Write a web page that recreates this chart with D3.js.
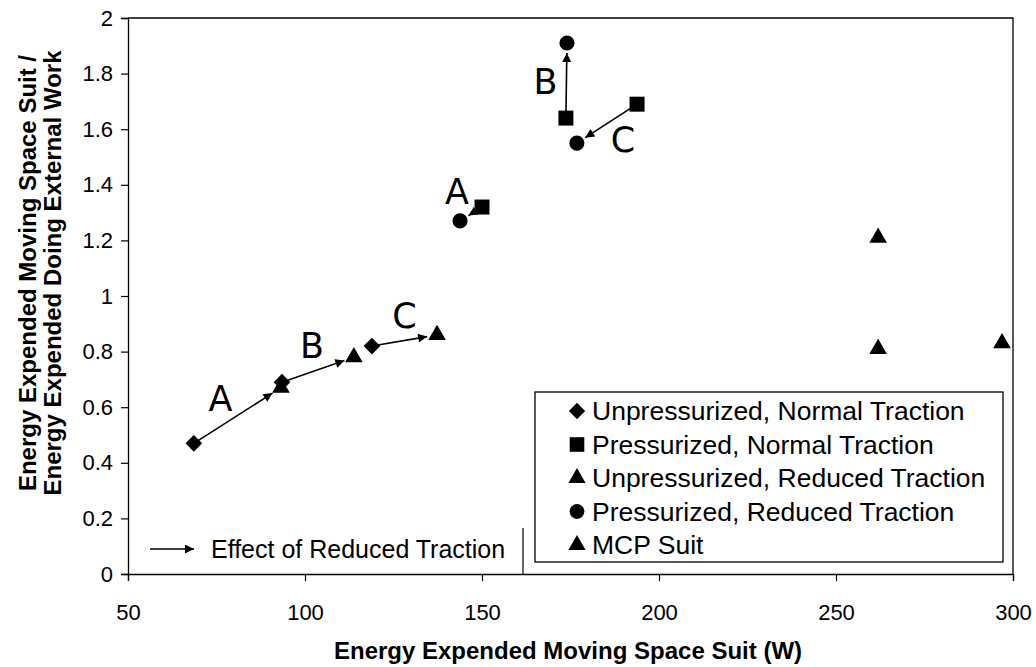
<!DOCTYPE html>
<html>
<head>
<meta charset="utf-8">
<script src="https://cdn.jsdelivr.net/npm/d3@7"></script>
<style>
  html, body { margin: 0; padding: 0; background: #fff; }
  svg { display: block; font-family: "Liberation Sans", Arial, sans-serif; }
</style>
</head>
<body>
<svg id="chart" width="1036" height="667"></svg>
<script>
// Energy expended moving a space suit vs. ratio to external work
const xTicks = [50, 100, 150, 200, 250, 300];
const yTicks = [0, 0.2, 0.4, 0.6, 0.8, 1, 1.2, 1.4, 1.6, 1.8, 2];

// [watts, ratio]
const unpressurizedNormal  = [[68.6, 0.47], [93.5, 0.69], [118.9, 0.82]];
const pressurizedNormal    = [[150.0, 1.32], [173.7, 1.64], [193.8, 1.69]];
const unpressurizedReduced = [[93.2, 0.67], [113.8, 0.78], [137.3, 0.86]];
const pressurizedReduced   = [[143.8, 1.27], [174.0, 1.91], [176.8, 1.55]];
const mcpSuit              = [[261.9, 1.21], [261.9, 0.81], [296.9, 0.83]];

const conditionLetters = ["A", "B", "C"];
const legendLabels = [
  "Unpressurized, Normal Traction",
  "Pressurized, Normal Traction",
  "Unpressurized, Reduced Traction",
  "Pressurized, Reduced Traction",
  "MCP Suit"
];
const arrowLegendLabel = "Effect of Reduced Traction";
const xTitle = "Energy Expended Moving Space Suit (W)";
const yTitleLines = ["Energy Expended Moving Space Suit /", "Energy Expended Doing External Work"];

// pixel offsets of the A/B/C letters from each arrow's midpoint
const unpLetterOffsets = [[-17, -17], [-6, -24], [0, -24]];
const presLetterOffsets = [[-14, -22], [-21, 1], [16, 16]];

const svg = d3.select("#chart");
const L = 128, R = 1013, T = 18, B = 574;

const x = d3.scaleLinear().domain([50, 300]).range([L, R]);
const y = d3.scaleLinear().domain([0, 2]).range([B, T]);

// plot frame (top and right)
svg.append("path")
  .attr("d", `M${L},${T}H${R}V${B}`)
  .attr("fill", "none").attr("stroke", "#000").attr("stroke-width", 1.3);

// axes
const xAxis = svg.append("g").attr("transform", `translate(0,${B})`)
  .call(d3.axisBottom(x).tickValues(xTicks).tickSize(7).tickPadding(23).tickFormat(d3.format("d")));
const yAxis = svg.append("g").attr("transform", `translate(${L},0)`)
  .call(d3.axisLeft(y).tickValues(yTicks).tickSize(7).tickPadding(8).tickFormat(d => String(d)));
[xAxis, yAxis].forEach(g => {
  g.select(".domain").attr("stroke", "#000").attr("stroke-width", 1.3);
  g.selectAll(".tick line").attr("stroke", "#000").attr("stroke-width", 1.2);
  g.selectAll(".tick text").attr("fill", "#000").attr("font-size", 22)
    .attr("font-family", "Liberation Sans, Arial, sans-serif");
});

// axis titles
svg.append("text")
  .attr("x", 568).attr("y", 659)
  .attr("text-anchor", "middle")
  .attr("font-size", 24).attr("font-weight", "bold")
  .text(xTitle);

const yt = svg.append("text")
  .attr("transform", `translate(28,${273}) rotate(-90)`)
  .attr("text-anchor", "middle")
  .attr("font-size", 24).attr("font-weight", "bold");
yTitleLines.forEach((t, i) => {
  yt.append("tspan").attr("x", 0).attr("dy", i === 0 ? "0.35em" : 25).text(t);
});

// arrow heads
const defs = svg.append("defs");
defs.append("marker")
  .attr("id", "head").attr("viewBox", "0 0 10 10")
  .attr("refX", 10).attr("refY", 5)
  .attr("markerUnits", "userSpaceOnUse")
  .attr("markerWidth", 11).attr("markerHeight", 9)
  .attr("orient", "auto")
  .append("path").attr("d", "M0,0L10,5L0,10Z").attr("fill", "#000");

function drawArrows(from, to, offsets) {
  from.forEach((s, i) => {
    const t = to[i];
    const sx = x(s[0]), sy = y(s[1]), tx = x(t[0]), ty = y(t[1]);
    const dx = tx - sx, dy = ty - sy, len = Math.hypot(dx, dy);
    const gap = Math.min(10, len * 0.4);
    const ex = tx - dx / len * gap, ey = ty - dy / len * gap;
    svg.append("line")
      .attr("x1", sx).attr("y1", sy).attr("x2", ex).attr("y2", ey)
      .attr("stroke", "#000").attr("stroke-width", 1.6)
      .attr("marker-end", "url(#head)");
    const mx = (sx + tx) / 2 + offsets[i][0], my = (sy + ty) / 2 + offsets[i][1];
    svg.append("text")
      .attr("x", mx).attr("y", my)
      .attr("text-anchor", "middle").attr("dominant-baseline", "central")
      .attr("font-family", "DejaVu Sans, Verdana, sans-serif")
      .attr("font-size", 35)
      .text(conditionLetters[i]);
  });
}
drawArrows(unpressurizedNormal, unpressurizedReduced, unpLetterOffsets);
drawArrows(pressurizedNormal, pressurizedReduced, presLetterOffsets);

// marker shapes
const shapes = {
  diamond: { type: d3.symbolSquare, size: 140, rotate: 45 },
  square: { type: d3.symbolSquare, size: 225, rotate: 0 },
  triangle: { type: d3.symbolTriangle, size: 135, rotate: 0 },
  circle: { type: d3.symbolCircle, size: 180, rotate: 0 }
};
function drawPoints(data, shape) {
  const sym = d3.symbol().type(shape.type).size(shape.size);
  svg.append("g").selectAll("path").data(data).join("path")
    .attr("d", sym)
    .attr("transform", d => `translate(${x(d[0])},${y(d[1])}) rotate(${shape.rotate})`)
    .attr("fill", "#000");
}
drawPoints(unpressurizedNormal, shapes.diamond);
drawPoints(unpressurizedReduced, shapes.triangle);
drawPoints(pressurizedNormal, shapes.square);
drawPoints(pressurizedReduced, shapes.circle);
drawPoints(mcpSuit, shapes.triangle);

// series legend
const legendShapes = [shapes.diamond, shapes.square, shapes.triangle, shapes.circle, shapes.triangle];
const lg = svg.append("g");
lg.append("rect")
  .attr("x", 535).attr("y", 392).attr("width", 468).attr("height", 170)
  .attr("fill", "#fff").attr("stroke", "#000").attr("stroke-width", 1.3);
legendLabels.forEach((lab, i) => {
  const cy = 411 + i * 33.5;
  const sh = legendShapes[i];
  lg.append("path")
    .attr("d", d3.symbol().type(sh.type).size(sh.size * 0.95))
    .attr("transform", `translate(577,${cy}) rotate(${sh.rotate})`)
    .attr("fill", "#000");
  lg.append("text")
    .attr("x", 592).attr("y", cy)
    .attr("dominant-baseline", "central")
    .attr("font-size", 26.5)
    .text(lab);
});

// arrow legend
const ag = svg.append("g");
ag.append("line")
  .attr("x1", 523).attr("y1", 528).attr("x2", 523).attr("y2", B)
  .attr("stroke", "#000").attr("stroke-width", 1.2);
ag.append("line")
  .attr("x1", 150).attr("y1", 549).attr("x2", 194).attr("y2", 549)
  .attr("stroke", "#000").attr("stroke-width", 1.6)
  .attr("marker-end", "url(#head)");
ag.append("text")
  .attr("x", 211).attr("y", 549)
  .attr("dominant-baseline", "central")
  .attr("font-size", 25)
  .text(arrowLegendLabel);
</script>
</body>
</html>
